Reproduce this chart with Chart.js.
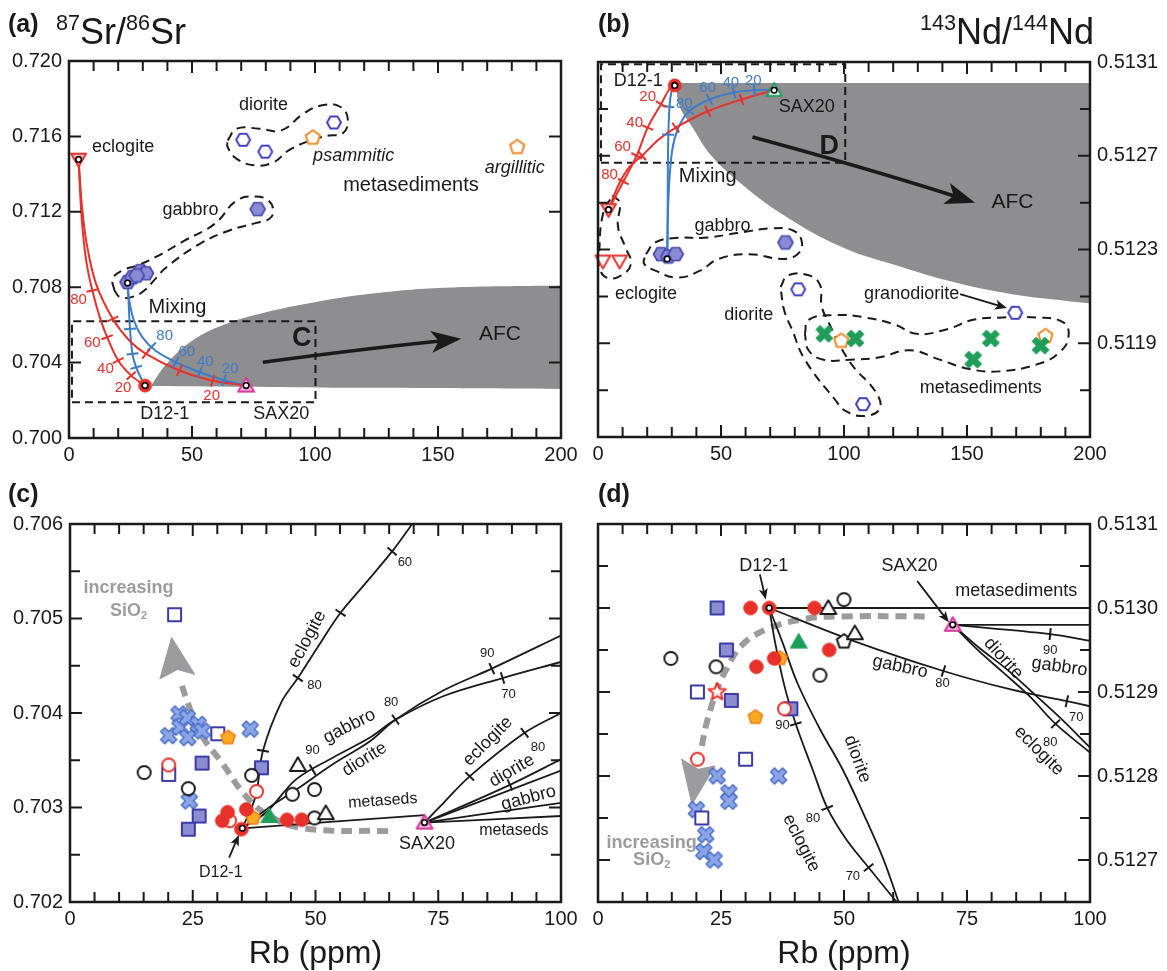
<!DOCTYPE html>
<html><head><meta charset="utf-8">
<script src="https://cdn.jsdelivr.net/npm/chart.js@4.4.1/dist/chart.umd.min.js"></script>
<style>
html,body{margin:0;padding:0;background:#fff;}
#wrap{position:relative;width:1167px;height:971px;overflow:hidden;background:#fff;}
canvas{position:absolute;}
</style></head><body>
<div id="wrap">
<canvas id="ca" width="583" height="470" style="left:0;top:0;width:583px;height:470px"></canvas>
<canvas id="cb" width="584" height="470" style="left:583px;top:0;width:584px;height:470px"></canvas>
<canvas id="cc" width="583" height="501" style="left:0;top:470px;width:583px;height:501px"></canvas>
<canvas id="cd" width="584" height="501" style="left:583px;top:470px;width:584px;height:501px"></canvas>
</div>
<script>
// ================= DATA =================
// ---- Panel (a): 87Sr/86Sr vs Rb ----
const aXLabels = ['0','50','100','150','200'];
const aYLabels = ['0.700','0.704','0.708','0.712','0.716','0.720'];
const aEclogite = [[3.9,0.71478]];
const aD121 = [[30.9,0.70278]];
const aSAX20 = [[72.0,0.70278]];
const aGabbro = [[23.8,0.70827],[25.8,0.70853],[29.0,0.70885],[31.3,0.70874],[27.5,0.70862],[76.7,0.71214]];
const aDiorite = [[70.8,0.71582],[79.8,0.71519],[107.7,0.71674]];
const aMetasediments = [[99.1,0.71593],[182.2,0.71543]];
const aEndmembers = [[3.9,0.71478],[30.9,0.70278],[72.0,0.70278],[23.8,0.70822]];
const aRedToD121 = [[3.9,0.71478],[4.7,0.7126],[5.7,0.71083],[7.2,0.70924],[9.5,0.70782],[12.5,0.70641],[15.5,0.70535],[20.0,0.70411],[25.3,0.70331],[30.9,0.70278]];
const aRedToSAX20 = [[3.9,0.71478],[5.3,0.71225],[7.2,0.7103],[11.0,0.70818],[17.8,0.70632],[24.5,0.70517],[31.3,0.70446],[44.9,0.70358],[58.4,0.70304],[72.0,0.70278]];
const aBlueToD121 = [[23.8,0.70822],[24.2,0.70729],[24.8,0.70579],[25.8,0.70446],[27.3,0.70375],[29.1,0.70322],[30.9,0.70278]];
const aBlueToSAX20 = [[23.8,0.70822],[24.5,0.70729],[26.4,0.70623],[29.8,0.70535],[35.1,0.70464],[43.4,0.70402],[53.2,0.70349],[63.7,0.70304],[72.0,0.70278]];
const aTicksRedD = [[9.5,0.70782],[15.5,0.70535],[20.0,0.70411],[25.3,0.70331]];
const aTicksRedS = [[17.8,0.70632],[31.3,0.70446],[44.9,0.70358],[58.4,0.70304]];
const aTicksBlueD = [[24.8,0.70579],[25.8,0.70446],[27.3,0.70375]];
const aTicksBlueS = [[33.6,0.70484],[43.4,0.70402],[53.2,0.70349],[63.0,0.70306]];
const aAfcUpper = [[33.6,0.70283],[39.6,0.70393],[50.2,0.70517],[62.2,0.70597],[77.3,0.70658],[99.8,0.7072],[122.4,0.70765],[152.6,0.70797],[200,0.70809]];
const aAfcLower = [[33.6,0.70276],[120,0.70266],[200,0.7026]];
const aBoxC = [[1.2,0.70189],[100.2,0.70189],[100.2,0.7062],[1.2,0.7062],[1.2,0.70189]];
const aGabbroField = [[18.5,0.70782],[17.8,0.70844],[21.5,0.70888],[27.6,0.70915],[35.1,0.70959],[47.1,0.71048],[59.2,0.71136],[68.2,0.7126],[75.8,0.71281],[81.0,0.7126],[83.0,0.71207],[81.5,0.71163],[75.8,0.7114],[65.2,0.71101],[53.2,0.7103],[39.6,0.70906],[35.1,0.70844],[30.6,0.70782],[26.1,0.7075],[20.8,0.70747],[18.5,0.70782]];
const aDioriteField = [[64.5,0.71579],[68.2,0.71641],[77.3,0.71641],[86.3,0.71632],[95.3,0.7172],[102.9,0.71765],[110.4,0.71756],[113.4,0.71685],[111.1,0.71614],[105.9,0.71605],[98.3,0.71579],[89.3,0.71526],[83.3,0.71464],[75.8,0.71446],[68.2,0.71481],[64.5,0.71543],[64.5,0.71579]];
const aAfcArrow = [[78.8,0.70402],[119.4,0.70473],[159.4,0.70526]];
const aLabels = [
 ['eclogite',22.0,0.71543,'lab'],['diorite',79.1,0.71765,'lab'],['psammitic',115.7,0.71494,'it'],
 ['argillitic',181.2,0.71432,'it'],['metasediments',139,0.7134,'big'],['gabbro',49.4,0.7121,'lab'],
 ['Mixing',44.1,0.7069,'big'],['C',94.6,0.70526,'bold'],['AFC',175.2,0.70552,'afc'],
 ['D12-1',38.9,0.70127,'lab'],['SAX20',86.3,0.70127,'lab'],
 ['80',3.9,0.70733,'red'],['60',9.5,0.70503,'red'],['40',14.8,0.70366,'red'],['20',22.0,0.70266,'red'],['20',58.0,0.70225,'red'],
 ['80',38.9,0.70543,'blue'],['60',47.9,0.70455,'blue'],['40',55.4,0.70402,'blue'],['20',65.5,0.70366,'blue']
];

// ---- Panel (b): 143Nd/144Nd vs Rb ----
const bXLabels = ['0','50','100','150','200'];
const bYLabels = ['0.5119','0.5123','0.5127','0.5131'];
const bEclogiteEnd = [[4.3,0.51247]];
const bEclogite = [[2.0,0.51225],[8.8,0.51225]];
const bD121 = [[31.2,0.513]];
const bSAX20 = [[71.6,0.51298]];
const bGabbro = [[25.6,0.51228],[28.6,0.51227],[31.6,0.51228],[76.2,0.51233]];
const bDiorite = [[81.4,0.51213],[169.6,0.51203],[107.7,0.51164]];
const bMetasedX = [[92.0,0.51194],[104.6,0.51192],[159.7,0.51192],[152.5,0.51183],[179.9,0.51189]];
const bMetasedPent = [[98.9,0.51191],[181.9,0.51193]];
const bEndmembers = [[4.3,0.51247],[31.2,0.513],[71.6,0.51298],[28.1,0.51226]];
const bRedToD121 = [[4.3,0.51247],[7.3,0.51253],[10.3,0.51259],[15.7,0.5127],[20.2,0.51282],[25.6,0.51292],[29.4,0.51299],[31.2,0.513]];
const bRedToSAX20 = [[4.3,0.51247],[8.1,0.51257],[12.6,0.51265],[17.9,0.5127],[24.8,0.51277],[31.6,0.51282],[44.6,0.51289],[58.3,0.51294],[71.6,0.51298]];
const bBlueToD121 = [[28.1,0.51226],[28.3,0.51237],[28.4,0.51266],[28.9,0.51288],[29.8,0.51297],[31.2,0.513]];
const bBlueToSAX20 = [[28.1,0.51226],[28.6,0.51251],[30.1,0.51272],[32.7,0.51282],[37.0,0.51289],[45.3,0.51294],[55.2,0.51297],[63.6,0.51298],[71.6,0.51298]];
const bTicksRedD = [[10.3,0.51259],[15.7,0.5127],[20.2,0.51282],[25.6,0.51292]];
const bTicksRedS = [[17.9,0.5127],[31.6,0.51282],[44.6,0.51289],[58.3,0.51294]];
const bTicksBlueD = [[28.6,0.51291],[28.5,0.51279]];
const bTicksBlueS = [[37.0,0.51289],[45.3,0.51294],[55.2,0.51297],[63.6,0.51298]];
const bAfcUpper = [[31.6,0.51301],[200,0.51301]];
const bAfcLower = [[31.6,0.51301],[33.2,0.51291],[38.5,0.51282],[46.1,0.5127],[58.3,0.51258],[76.5,0.51244],[99.3,0.51231],[122.1,0.51223],[144.9,0.51216],[167.8,0.51211],[190.6,0.51208],[200,0.51207]];
const bBoxD = [[1.2,0.51267],[100.5,0.51267],[100.5,0.51309],[1.2,0.51309],[1.2,0.51267]];
const bEclogiteField = [[5.8,0.51253],[8.8,0.5125],[8.1,0.5124],[11.1,0.51231],[13.4,0.51224],[9.6,0.51219],[3.5,0.51218],[0.3,0.51223],[0.4,0.51228],[2.0,0.51245],[5.8,0.51253]];
const bGabbroField = [[19.5,0.51228],[23.3,0.51233],[32.4,0.51235],[43.0,0.51235],[56.7,0.51237],[70.4,0.51239],[79.5,0.51238],[82.9,0.51233],[81.1,0.51228],[75.0,0.51226],[61.3,0.51228],[49.1,0.51226],[41.5,0.51221],[32.4,0.51218],[23.3,0.51221],[18.7,0.51224],[19.5,0.51228]];
const bDioriteField = [[74.2,0.51214],[77.3,0.51219],[85.6,0.51219],[90.2,0.51215],[90.9,0.51206],[93.2,0.512],[102.4,0.51182],[113.0,0.51169],[114.5,0.51162],[108.4,0.51159],[100.8,0.51161],[96.3,0.51166],[84.1,0.51183],[78.8,0.51196],[75.7,0.51204],[74.2,0.51214]];
const bMetasedField = [[84.1,0.51194],[85.6,0.512],[96.3,0.51202],[108.4,0.51201],[120.6,0.51198],[129.7,0.51194],[141.9,0.51196],[152.5,0.512],[164.7,0.51201],[178.4,0.51201],[189.0,0.51199],[191.3,0.51193],[187.5,0.51186],[178.4,0.51181],[163.2,0.51178],[151.0,0.51179],[138.9,0.51183],[126.7,0.51187],[114.5,0.51184],[102.4,0.51183],[91.7,0.51183],[85.6,0.51187],[84.1,0.51194]];
const bAfcArrow = [[62.8,0.51278],[108.4,0.51265],[153.3,0.5125]];
const bGranoArrow = [[147.2,0.51211],[166.2,0.51205]];
const bLabels = [
 ['D12-1',16.4,0.51302,'lab'],['SAX20',84.9,0.51291,'lab'],['D',94.0,0.51274,'bold'],['Mixing',44.6,0.51261,'big'],
 ['AFC',168.5,0.5125,'afc'],['gabbro',50.6,0.5124,'lab'],['eclogite',19.5,0.51211,'lab'],['diorite',61.3,0.51202,'lab'],
 ['granodiorite',127.5,0.51211,'lab'],['metasediments',155.6,0.51171,'lab'],
 ['20',20.2,0.51295,'red'],['40',14.9,0.51284,'red'],['60',10.0,0.51274,'red'],['80',4.7,0.51262,'red'],
 ['80',35.1,0.51292,'blue'],['60',44.6,0.51299,'blue'],['40',54.0,0.51301,'blue'],['20',63.1,0.51302,'blue']
];

// ---- Panel (c): 87Sr/86Sr vs Rb (detail) ----
const cXLabels = ['0','25','50','75','100'];
const cYLabels = ['0.702','0.703','0.704','0.705','0.706'];
const cBlueX = [[20.1,0.70376],[22.2,0.70399],[22.4,0.70385],[23.9,0.70395],[24.0,0.70374],[26.1,0.70388],[26.9,0.70381],[36.7,0.70383],[24.3,0.70307]];
const cOpenSquares = [[21.3,0.70504],[30.1,0.70378],[20.1,0.70335]];
const cFilledSquares = [[26.9,0.70347],[39.0,0.70342],[26.3,0.70291],[24.1,0.70277]];
const cPentagons = [[32.2,0.70374],[37.3,0.70289]];
const cOpenCircles = [[15.1,0.70337],[24.1,0.7032],[37.0,0.70334],[45.3,0.70314],[49.8,0.70319],[49.8,0.70289]];
const cRedOpenCircles = [[20.1,0.70345],[38.0,0.70317],[32.5,0.70286]];
const cRedCircles = [[31.0,0.70286],[32.1,0.70295],[35.9,0.70298],[44.2,0.70287],[47.2,0.70287],[34.9,0.70277]];
const cGreenTriangle = [[40.6,0.70291]];
const cOpenTriangles = [[46.4,0.70345],[52.1,0.70294]];
const cSAX20 = [[72.2,0.70284]];
const cEndmembers = [[35.1,0.70278],[72.2,0.70284]];
const cEclogite = [[35.1,0.70278],[37.8,0.70312],[39.3,0.7036],[43.0,0.70411],[46.4,0.70437],[50.6,0.70471],[55.1,0.70506],[60.3,0.70538],[65.6,0.70571],[69.7,0.706]];
const cGabbro = [[35.1,0.70278],[40.0,0.70295],[46.1,0.7033],[53.6,0.70353],[61.1,0.70374],[66.3,0.70393],[76.1,0.70418],[88.1,0.70437],[100,0.70454]];
const cDiorite = [[35.1,0.70278],[40.0,0.70298],[46.1,0.70319],[53.6,0.70346],[61.1,0.7037],[66.3,0.70393],[76.1,0.70424],[85.9,0.70447],[100,0.70482]];
const cMetaseds = [[35.1,0.70278],[72.2,0.70292]];
const cSaxEclogite = [[72.2,0.70284],[76.1,0.70305],[81.4,0.70333],[92.6,0.70379],[100,0.704]];
const cSaxDiorite = [[72.2,0.70284],[89.6,0.70324],[100,0.70351]];
const cSaxGabbro = [[72.2,0.70284],[100,0.70339]];
const cSaxMetasedA = [[72.2,0.70284],[100,0.70305]];
const cSaxMetasedB = [[72.2,0.70284],[100,0.70291]];
const cTicksEclogite = [[39.3,0.7036],[46.4,0.70437],[55.1,0.70506],[65.6,0.70571]];
const cTicksGabbro = [[49.4,0.7034],[66.3,0.70393],[88.1,0.70437]];
const cTicksDiorite = [[85.9,0.70447]];
const cTicksSaxEclogite = [[81.4,0.70333],[92.6,0.70379]];
const cTicksSaxDiorite = [[89.6,0.70324]];
const cTrend = [[64.8,0.70275],[47.6,0.70278],[40.0,0.70293],[35.5,0.70314],[31.0,0.70347],[26.5,0.70379],[23.5,0.70418],[22.4,0.70436]];
const cTrendHead = [[18.3,0.70436],[20.7,0.7048],[25.4,0.70441],[21.9,0.70446],[18.3,0.70436]];
const cD121Arrow = [[32.4,0.70247],[34.4,0.70271]];
const cLabels = [
 ['increasing',11.9,0.70532,'gray'],['SiO_{2}',11.9,0.70508,'gray'],
 ['eclogite',48.3,0.70478,'lab',-62],['80',49.8,0.70429,'num'],['60',68.2,0.70559,'num'],
 ['gabbro',56.9,0.70386,'lab',-27],['90',49.4,0.7036,'num'],['diorite',60.0,0.70351,'lab',-32],
 ['80',65.4,0.70411,'num'],['90',85.0,0.70463,'num'],['70',89.3,0.7042,'num'],
 ['metaseds',63.7,0.70307,'sm',-4],['eclogite',85.1,0.7037,'lab',-45],['80',95.3,0.70364,'num'],
 ['diorite',90.0,0.70339,'lab',-30],['gabbro',93.4,0.7031,'lab',-15],['metaseds',90.4,0.70276,'sm'],
 ['SAX20',72.7,0.70261,'lab'],['D12-1',30.7,0.70231,'sm']
];

// ---- Panel (d): 143Nd/144Nd vs Rb (detail) ----
const dXLabels = ['0','25','50','75','100'];
const dYLabels = ['0.5127','0.5128','0.5129','0.5130','0.5131'];
const dRedCircles = [[31.0,0.513],[34.8,0.513],[44.0,0.513],[47.0,0.51295],[32.2,0.51293],[35.8,0.51294]];
const dRedOpenCircles = [[20.2,0.51282],[37.9,0.51288]];
const dRedStar = [[24.2,0.5129]];
const dPentagons = [[37.0,0.51294],[32.0,0.51287]];
const dGreenTriangle = [[40.8,0.51296]];
const dSAX20 = [[72.1,0.51298]];
const dOpenTriangles = [[46.8,0.513],[52.2,0.51297]];
const dOpenPentagon = [[50.0,0.51296]];
const dOpenCircles = [[14.8,0.51294],[24.0,0.51293],[50.0,0.51301],[45.1,0.51292]];
const dFilledSquares = [[24.2,0.513],[26.1,0.51295],[27.1,0.51289],[39.2,0.51288]];
const dOpenSquares = [[20.2,0.5129],[30.0,0.51282],[21.1,0.51275]];
const dBlueX = [[24.2,0.5128],[26.6,0.51278],[26.6,0.51277],[36.7,0.5128],[20.0,0.51276],[21.9,0.51273],[21.5,0.51271],[23.6,0.5127]];
const dEndmembers = [[34.8,0.513],[72.1,0.51298]];
const dMetaseds = [[34.8,0.513],[100,0.513]];
const dGabbro = [[34.8,0.513],[52.3,0.51296],[70.2,0.512925],[83.9,0.512903],[95.3,0.512889],[100,0.512883]];
const dEclogite = [[34.8,0.513],[36.0,0.512959],[37.9,0.512907],[40.2,0.512862],[43.6,0.512808],[46.6,0.512762],[50.4,0.512725],[55.0,0.512691],[60.7,0.51265]];
const dDiorite = [[34.8,0.513],[37.5,0.512959],[40.5,0.512911],[45.1,0.512856],[49.7,0.512808],[54.2,0.512752],[58.0,0.512701],[61.1,0.51265]];
const dSaxMetaseds = [[72.1,0.51298],[100,0.51298]];
const dSaxGabbro = [[72.1,0.51298],[91.9,0.512969],[100,0.512961]];
const dSaxEclogite = [[72.1,0.51298],[77.0,0.512951],[82.4,0.512923],[87.7,0.512895],[93.0,0.512862],[100,0.512828]];
const dSaxDiorite = [[72.1,0.51298],[77.4,0.512953],[83.1,0.512927],[88.4,0.512899],[93.8,0.51287],[100,0.512834]];
const dTicksEclogite = [[40.2,0.512862],[46.6,0.512762],[55.0,0.512691]];
const dTicksGabbro = [[70.2,0.512925],[95.3,0.512889]];
const dTicksSaxGabbro = [[91.9,0.512969]];
const dTicksSaxEclogite = [[93.0,0.512862]];
const dTrend = [[66.4,0.51299],[49.7,0.51299],[42.1,0.512987],[34.4,0.512975],[29.1,0.512955],[26.1,0.512927],[24.2,0.512903],[22.3,0.512868],[21.5,0.512848],[20.9,0.512828]];
const dTrendHead = [[17.0,0.51282],[19.1,0.512766],[23.8,0.512812],[20.4,0.512808],[17.0,0.51282]];
const dD121Arrow = [[32.9,0.51304],[34.1,0.51301]];
const dSAX20Arrow = [[64.9,0.513032],[71.3,0.512983]];
const dLabels = [
 ['D12-1',33.7,0.51305,'lab'],['SAX20',63.3,0.51305,'lab'],['metasediments',85.0,0.51302,'lab'],
 ['gabbro',61.4,0.51293,'lab',12],['80',70.0,0.51291,'num'],['90',91.9,0.51295,'num'],['gabbro',93.8,0.51293,'lab',8],
 ['diorite',82.4,0.51294,'lab',48],['70',97.2,0.51287,'num'],['80',91.9,0.51284,'num'],['eclogite',89.6,0.51283,'lab',45],
 ['diorite',52.7,0.51282,'lab',70],['90',37.5,0.51286,'num'],['80',43.7,0.51275,'num'],['eclogite',41.3,0.51272,'lab',63],
 ['70',51.8,0.51268,'num'],['increasing',10.9,0.51272,'gray'],['SiO_{2}',10.9,0.5127,'gray']
];

// ================= STYLE / HELPERS =================
const FONT = "'Liberation Sans', Arial, Helvetica, sans-serif";
Chart.defaults.font.family = FONT;
Chart.defaults.color = '#1a1a1a';
const RED = '#e8312b', BLUE = '#3d7cc9', GRAY = '#8e8e90', INK = '#1a1a1a', LGRAY = '#9c9c9e';
const ST = {
  lab:{size:18}, big:{size:20}, it:{size:18,italic:true}, bold:{size:27,weight:'bold'}, afc:{size:21},
  red:{size:15,color:RED}, blue:{size:15,color:BLUE}, sm:{size:16}, num:{size:13},
  gray:{size:18,weight:'bold',color:LGRAY}
};
const P = a => a.map(([x,y]) => ({x, y}));

function marker(shape, r, fill, stroke, lw) {
  const S = Math.ceil(2*r*1.25 + 2*lw + 4);
  const c = document.createElement('canvas'); c.width = S; c.height = S;
  const g = c.getContext('2d'); g.translate(S/2, S/2); g.beginPath();
  const poly = (n, rot, rr) => { for (let i=0;i<n;i++){ const a=rot+i*2*Math.PI/n; const px=rr*Math.cos(a), py=rr*Math.sin(a); i?g.lineTo(px,py):g.moveTo(px,py);} g.closePath(); };
  if (shape==='circle') g.arc(0,0,r,0,2*Math.PI);
  else if (shape==='square') g.rect(-r,-r,2*r,2*r);
  else if (shape==='tri') { g.translate(0,1.5); poly(3,-Math.PI/2,r*1.15); }
  else if (shape==='trid') { g.translate(0,-1.5); poly(3,Math.PI/2,r*1.15); }
  else if (shape==='hex') poly(6,0,r);
  else if (shape==='pent') poly(5,-Math.PI/2,r);
  else if (shape==='star') { for(let i=0;i<10;i++){const a=-Math.PI/2+i*Math.PI/5, rr=i%2?r*0.45:r; const px=rr*Math.cos(a), py=rr*Math.sin(a); i?g.lineTo(px,py):g.moveTo(px,py);} g.closePath(); }
  else if (shape==='x') { const L=r, w=r*0.34, k=Math.SQRT1_2;
    [[w,L],[w,w],[L,w],[L,-w],[w,-w],[w,-L],[-w,-L],[-w,-w],[-L,-w],[-L,w],[-w,w],[-w,L]].forEach(([px,py],i)=>{const qx=(px-py)*k, qy=(px+py)*k; i?g.lineTo(qx,qy):g.moveTo(qx,qy);}); g.closePath(); }
  if (fill) { g.fillStyle = fill; g.fill(); }
  if (stroke) { g.lineWidth = lw; g.strokeStyle = stroke; g.lineJoin = 'round'; g.stroke(); }
  return c;
}
const M = {
  hexF: marker('hex',7.5,'#8a8ad2','#4545b0',1.6),
  hexO: marker('hex',7,'#ffffff','#4040c8',2),
  pentO: marker('pent',7.5,'#ffffff','#f08a2a',2),
  pentF: marker('pent',7.5,'#f8aa22','#f07d1a',1.5),
  triDR: marker('trid',7.5,'#f7c3bd',RED,2),
  triDO: marker('trid',7.5,'#ffffff',RED,2),
  redDot: marker('circle',6.5,RED,RED,1),
  triMag: marker('tri',8,'#f2b0d8','#d6399f',2),
  triGreenO: marker('tri',7.5,'#ffffff','#1e9e5a',2),
  triGreen: marker('tri',8.5,'#1e9e5a','#1e9e5a',1),
  xGreen: marker('x',9,'#1e9e5a','#1e9e5a',1),
  xBlue: marker('x',8.5,'#8aa6e6','#4b6cc8',1.5),
  sqF: marker('square',6.5,'#8c8cd0','#3a3aa8',2),
  sqO: marker('square',6.5,'#ffffff','#3a3aa8',2),
  circO: marker('circle',6.5,'#ffffff',INK,2),
  circRO: marker('circle',6.5,'#ffffff',RED,2),
  circR: marker('circle',6.8,RED,RED,1),
  triO: marker('tri',8,'#ffffff',INK,2),
  pentK: marker('pent',7.5,'#ffffff',INK,2),
  starR: marker('star',9,'#ffffff',RED,2)
};

function pts(data, style, order=2) { return {data:P(data), showLine:false, pointStyle:style, pointRadius:7, clip:false, order}; }
function ends(data) { return {data:P(data), showLine:false, pointStyle:'circle', pointRadius:2.8, pointBackgroundColor:'#fff', pointBorderColor:'#000', pointBorderWidth:1.6, clip:false, order:1}; }
function curve(data, color, w=2, extra={}) { return Object.assign({data:P(data), showLine:true, borderColor:color, borderWidth:w, pointRadius:0, tension:0.35, fill:false, order:5}, extra); }
function dashed(data) { return curve(data, INK, 2, {borderDash:[9,6], tension:0.45, order:8}); }
function box(data) { return curve(data, INK, 2, {borderDash:[8,5], tension:0, order:8}); }
function perp(curveData) {
  const C = P(curveData);
  return ctx => {
    const ch = ctx.chart, xs = ch.scales.x, ys = ch.scales.y, p = ctx.raw;
    if (!p || !xs || !ys) return 0;
    const px = xs.getPixelForValue(p.x), py = ys.getPixelForValue(p.y);
    let best = Infinity, ang = 0;
    for (let i=0;i<C.length-1;i++){
      const ax=xs.getPixelForValue(C[i].x), ay=ys.getPixelForValue(C[i].y), bx=xs.getPixelForValue(C[i+1].x), by=ys.getPixelForValue(C[i+1].y);
      const dx=bx-ax, dy=by-ay, L=dx*dx+dy*dy||1; let t=((px-ax)*dx+(py-ay)*dy)/L; t=Math.max(0,Math.min(1,t));
      const qx=ax+t*dx, qy=ay+t*dy, d=(px-qx)**2+(py-qy)**2;
      if (d<best){best=d; ang=Math.atan2(dy,dx)*180/Math.PI;}
    }
    return ang + 90;
  };
}
function ticksOn(data, curveData, color, len=6) { return {data:P(data), showLine:false, pointStyle:'line', pointRadius:len, pointBorderColor:color, pointBorderWidth:2, order:4, pointRotation:perp(curveData)}; }
function afc(upper, lower) { return [
  {data:P(upper), showLine:true, borderWidth:0, borderColor:'rgba(0,0,0,0)', pointRadius:0, tension:0.4, fill:'+1', backgroundColor:GRAY, order:20},
  {data:P(lower), showLine:true, borderWidth:0, borderColor:'rgba(0,0,0,0)', pointRadius:0, tension:0.4, fill:false, order:21}
]; }
function trend(data, head) { return [
  curve(data, LGRAY, 6, {borderDash:[11,7], tension:0.4, order:6, borderCapStyle:'butt'}),
  {data:P(head), showLine:true, borderColor:LGRAY, borderWidth:1, pointRadius:0, tension:0, fill:'shape', backgroundColor:LGRAY, order:6}
]; }

function richSegs(t) { const segs=[]; const re=/([_^])\{([^}]*)\}/g; let last=0, m;
  while ((m=re.exec(t))) { if (m.index>last) segs.push({t:t.slice(last,m.index),k:0}); segs.push({t:m[2],k:m[1]==='_'?1:-1}); last=re.lastIndex; }
  if (last<t.length) segs.push({t:t.slice(last),k:0}); return segs; }
function drawRich(g, text, x, y, st, align, baseline, rot) {
  const segs = richSegs(text), base = st.size;
  const f = s => `${st.italic?'italic ':''}${st.weight||'normal'} ${s}px ${FONT}`;
  let W = 0; segs.forEach(s => { s.sz = s.k ? base*0.6 : base; g.font = f(s.sz); s.w = g.measureText(s.t).width; W += s.w; });
  g.save(); g.translate(x, y); g.rotate((rot||0)*Math.PI/180);
  let sx = align==='center' ? -W/2 : align==='right' ? -W : 0;
  g.fillStyle = st.color || INK; g.textBaseline = baseline; g.textAlign = 'left';
  segs.forEach(s => { g.font = f(s.sz); const dy = s.k===1 ? base*0.28 : s.k===-1 ? -base*0.4 : 0; g.fillText(s.t, sx, dy); sx += s.w; });
  g.restore();
}
function drawArrow(chart, pts, color, lw, hl, hw) {
  const xs=chart.scales.x, ys=chart.scales.y, g=chart.ctx;
  const Q = pts.map(([x,y]) => [xs.getPixelForValue(x), ys.getPixelForValue(y)]);
  const n = Q.length, [tx,ty] = Q[n-1], [px,py] = Q[n-2];
  const ang = Math.atan2(ty-py, tx-px), c = Math.cos(ang), s = Math.sin(ang);
  const bx = tx - c*hl*0.7, by = ty - s*hl*0.7;
  g.save(); g.strokeStyle = color; g.fillStyle = color; g.lineWidth = lw;
  g.beginPath(); g.moveTo(Q[0][0], Q[0][1]);
  if (n===3) g.quadraticCurveTo(Q[1][0], Q[1][1], bx, by); else { for (let i=1;i<n-1;i++) g.lineTo(Q[i][0],Q[i][1]); g.lineTo(bx,by); }
  g.stroke();
  g.beginPath(); g.moveTo(tx,ty); g.lineTo(tx-c*hl+s*hw, ty-s*hl-c*hw); g.lineTo(tx-c*hl*0.75, ty-s*hl*0.75); g.lineTo(tx-c*hl-s*hw, ty-s*hl+c*hw); g.closePath(); g.fill();
  g.restore();
}
const framePlugin = { id:'frame', afterDatasetsDraw(chart) {
  const {ctx, chartArea:a, scales:{x, y}} = chart;
  ctx.save(); ctx.strokeStyle = INK; ctx.lineWidth = 2; ctx.beginPath();
  x.ticks.forEach(t => { const p = x.getPixelForValue(t.value); const L = t.label!=='' ? 12 : 10;
    ctx.moveTo(p, a.bottom); ctx.lineTo(p, a.bottom-L); ctx.moveTo(p, a.top); ctx.lineTo(p, a.top+L); });
  y.ticks.forEach(t => { const p = y.getPixelForValue(t.value); const L = t.label!=='' ? 12 : 10;
    ctx.moveTo(a.left, p); ctx.lineTo(a.left+L, p); ctx.moveTo(a.right, p); ctx.lineTo(a.right-L, p); });
  ctx.stroke(); ctx.lineWidth = 2.5; ctx.strokeRect(a.left, a.top, a.right-a.left, a.bottom-a.top); ctx.restore();
} };
function annot(notes, arrows, heads) { return { id:'annot',
  afterDatasetsDraw(chart) { const g=chart.ctx, xs=chart.scales.x, ys=chart.scales.y;
    arrows.forEach(a => drawArrow(chart, a.pts, a.color||INK, a.lw, a.hl, a.hw));
    notes.forEach(([t,x,y,s,r]) => drawRich(g, t, xs.getPixelForValue(x), ys.getPixelForValue(y), ST[s], 'center', 'middle', r||0)); },
  afterDraw(chart) { heads.forEach(([t,x,y,st,al]) => drawRich(chart.ctx, t, x, y, st, al, 'alphabetic', 0)); } }; }

function makeChart(id, L, datasets, plugin) {
  const yRight = L.yPos === 'right';
  const lbl = labels => v => { const m = labels.find(s => Math.abs(parseFloat(s) - v) < 1e-9); return m === undefined ? '' : m; };
  return new Chart(document.getElementById(id), {
    type:'line', data:{datasets},
    options:{ responsive:false, animation:false, events:[],
      layout:{autoPadding:false, padding:{left: yRight ? L.left : 0, right: yRight ? 0 : L.w - L.right, top: L.top, bottom: 0}},
      plugins:{legend:{display:false}, tooltip:{enabled:false}},
      scales:{
        x:{type:'linear', position:'bottom', min:L.x.min, max:L.x.max, afterFit: s => { s.height = L.h - L.bottom; },
           ticks:{stepSize:L.x.step, autoSkip:false, maxRotation:0, minRotation:0, padding:5, font:{size:20}, color:INK, callback:lbl(L.x.labels)},
           grid:{display:false, drawTicks:false}, border:{display:false},
           title: L.xTitle ? {display:true, text:L.xTitle, font:{size:32, lineHeight:1}, color:INK, padding:{top:0,bottom:1}} : {display:false}},
        y:{type:'linear', position:L.yPos, min:L.y.min, max:L.y.max, afterFit: s => { s.width = yRight ? L.w - L.right : L.left; },
           ticks:{stepSize:L.y.step, autoSkip:false, padding:7, font:{size:20}, color:INK, callback:lbl(L.y.labels)},
           grid:{display:false, drawTicks:false}, border:{display:false}}
      } },
    plugins:[framePlugin, plugin]
  });
}

// ================= PANEL (a) =================
makeChart('ca', {w:583,h:470,left:69,right:561,top:61,bottom:438,yPos:'left',
  x:{min:0,max:200,step:10,labels:aXLabels}, y:{min:0.7,max:0.72,step:0.004,labels:aYLabels}}, [
  ends(aEndmembers),
  pts(aD121, M.redDot), pts(aSAX20, M.triMag), pts(aEclogite, M.triDR),
  pts(aGabbro, M.hexF, 3), pts(aDiorite, M.hexO), pts(aMetasediments, M.pentO),
  ticksOn(aTicksRedD, aRedToD121, RED), ticksOn(aTicksRedS, aRedToSAX20, RED),
  ticksOn(aTicksBlueD, aBlueToD121, BLUE), ticksOn(aTicksBlueS, aBlueToSAX20, BLUE),
  curve(aRedToD121, RED), curve(aRedToSAX20, RED), curve(aBlueToD121, BLUE), curve(aBlueToSAX20, BLUE),
  dashed(aGabbroField), dashed(aDioriteField), box(aBoxC),
  ...afc(aAfcUpper, aAfcLower)
], annot(aLabels, [{pts:aAfcArrow, lw:3.5, hl:30, hw:11}],
  [['(a)',8,32,{size:25,weight:'bold'},'left'], ['^{87}Sr/^{86}Sr',56,44,{size:36},'left']]));

// ================= PANEL (b) =================
makeChart('cb', {w:584,h:470,left:15,right:507,top:62,bottom:437,yPos:'right',
  x:{min:0,max:200,step:10,labels:bXLabels}, y:{min:0.5115,max:0.5131,step:0.0002,labels:bYLabels}}, [
  ends(bEndmembers),
  pts(bD121, M.redDot), pts(bSAX20, M.triGreenO), pts(bEclogiteEnd, M.triDR), pts(bEclogite, M.triDO),
  pts(bGabbro, M.hexF, 3), pts(bDiorite, M.hexO), pts(bMetasedX, M.xGreen), pts(bMetasedPent, M.pentO),
  ticksOn(bTicksRedD, bRedToD121, RED), ticksOn(bTicksRedS, bRedToSAX20, RED),
  ticksOn(bTicksBlueD, bBlueToD121, BLUE), ticksOn(bTicksBlueS, bBlueToSAX20, BLUE),
  curve(bRedToD121, RED), curve(bRedToSAX20, RED), curve(bBlueToD121, BLUE), curve(bBlueToSAX20, BLUE),
  dashed(bEclogiteField), dashed(bGabbroField), dashed(bDioriteField), dashed(bMetasedField), box(bBoxD),
  ...afc(bAfcUpper, bAfcLower)
], annot(bLabels, [{pts:bAfcArrow, lw:3.5, hl:30, hw:11}, {pts:bGranoArrow, lw:1.8, hl:12, hw:5}],
  [['(b)',15,32,{size:25,weight:'bold'},'left'], ['^{143}Nd/^{144}Nd',511,44,{size:36},'right']]));

// ================= PANEL (c) =================
makeChart('cc', {w:583,h:501,left:70,right:561,top:54,bottom:432,yPos:'left',xTitle:'Rb (ppm)',
  x:{min:0,max:100,step:5,labels:cXLabels}, y:{min:0.702,max:0.706,step:0.0005,labels:cYLabels}}, [
  ends(cEndmembers),
  pts(cRedCircles, M.circR), pts(cGreenTriangle, M.triGreen), pts(cSAX20, M.triMag),
  pts(cPentagons, M.pentF), pts(cOpenTriangles, M.triO), pts(cOpenCircles, M.circO), pts(cRedOpenCircles, M.circRO),
  pts(cFilledSquares, M.sqF), pts(cOpenSquares, M.sqO), pts(cBlueX, M.xBlue),
  ticksOn(cTicksEclogite, cEclogite, INK), ticksOn(cTicksGabbro, cGabbro, INK), ticksOn(cTicksDiorite, cDiorite, INK),
  ticksOn(cTicksSaxEclogite, cSaxEclogite, INK), ticksOn(cTicksSaxDiorite, cSaxDiorite, INK),
  curve(cEclogite, INK, 1.8), curve(cGabbro, INK, 1.8), curve(cDiorite, INK, 1.8), curve(cMetaseds, INK, 1.8),
  curve(cSaxEclogite, INK, 1.8), curve(cSaxDiorite, INK, 1.8), curve(cSaxGabbro, INK, 1.8),
  curve(cSaxMetasedA, INK, 1.8), curve(cSaxMetasedB, INK, 1.8),
  ...trend(cTrend, cTrendHead)
], annot(cLabels, [{pts:cD121Arrow, lw:1.8, hl:11, hw:4.5}], [['(c)',8,32,{size:25,weight:'bold'},'left']]));

// ================= PANEL (d) =================
makeChart('cd', {w:584,h:501,left:15,right:507,top:54,bottom:432,yPos:'right',xTitle:'Rb (ppm)',
  x:{min:0,max:100,step:5,labels:dXLabels}, y:{min:0.51265,max:0.5131,step:0.00005,labels:dYLabels}}, [
  ends(dEndmembers),
  pts(dRedCircles, M.circR), pts(dGreenTriangle, M.triGreen), pts(dSAX20, M.triMag), pts(dPentagons, M.pentF),
  pts(dOpenTriangles, M.triO), pts(dOpenPentagon, M.pentK), pts(dOpenCircles, M.circO), pts(dRedOpenCircles, M.circRO),
  pts(dRedStar, M.starR), pts(dFilledSquares, M.sqF), pts(dOpenSquares, M.sqO), pts(dBlueX, M.xBlue),
  ticksOn(dTicksEclogite, dEclogite, INK), ticksOn(dTicksGabbro, dGabbro, INK),
  ticksOn(dTicksSaxGabbro, dSaxGabbro, INK), ticksOn(dTicksSaxEclogite, dSaxEclogite, INK),
  curve(dMetaseds, INK, 1.8), curve(dGabbro, INK, 1.8), curve(dEclogite, INK, 1.8), curve(dDiorite, INK, 1.8),
  curve(dSaxMetaseds, INK, 1.8), curve(dSaxGabbro, INK, 1.8), curve(dSaxEclogite, INK, 1.8), curve(dSaxDiorite, INK, 1.8),
  ...trend(dTrend, dTrendHead)
], annot(dLabels, [{pts:dD121Arrow, lw:1.8, hl:11, hw:4.5}, {pts:dSAX20Arrow, lw:1.8, hl:11, hw:4.5}],
  [['(d)',15,32,{size:25,weight:'bold'},'left']]));
</script>
</body></html>
